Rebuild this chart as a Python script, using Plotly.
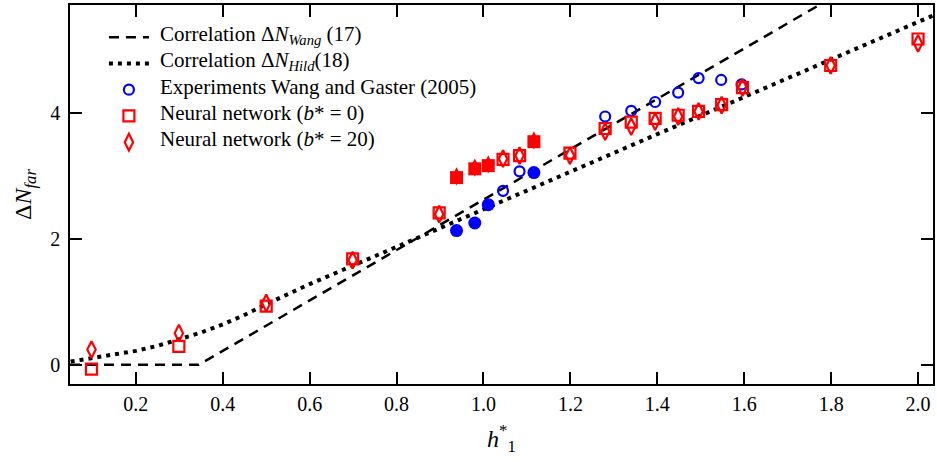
import plotly.graph_objects as go

# Correlation curves
wang_x = [0.0485, 0.345, 2.04]
wang_y = [0.0, 0.0, 6.78]
hild_x = [0.05, 0.1, 0.15, 0.2, 0.25, 0.3, 0.35, 0.4, 0.45, 0.5, 0.6, 0.8, 1.0, 1.2, 1.4, 1.6, 1.8, 2.0, 2.04]
hild_y = [0.05, 0.11, 0.16, 0.22, 0.30, 0.40, 0.51, 0.64, 0.79, 0.96, 1.28, 1.87, 2.47, 3.06, 3.66, 4.25, 4.85, 5.44, 5.56]

# Experiments Wang and Gaster (2005)
exp_open_x = [1.045, 1.083, 1.280, 1.340, 1.395, 1.448, 1.495, 1.547, 1.594]
exp_open_y = [2.76, 3.07, 3.94, 4.03, 4.17, 4.32, 4.55, 4.52, 4.45]
exp_fill_x = [0.938, 0.980, 1.011, 1.116]
exp_fill_y = [2.13, 2.25, 2.54, 3.05]

# Neural network (b* = 0)
nn0_open_x = [0.098, 0.299, 0.500, 0.699, 0.898, 1.045, 1.083, 1.199, 1.280, 1.340, 1.395, 1.448, 1.495, 1.548, 1.596, 1.799, 2.000]
nn0_open_y = [-0.07, 0.29, 0.93, 1.68, 2.41, 3.26, 3.32, 3.36, 3.75, 3.85, 3.91, 3.96, 4.02, 4.13, 4.40, 4.75, 5.17]
nn0_fill_x = [0.938, 0.980, 1.011, 1.116]
nn0_fill_y = [2.97, 3.11, 3.16, 3.54]

# Neural network (b* = 20)
nn20_open_x = [0.098, 0.299, 0.500, 0.699, 0.898, 1.045, 1.083, 1.199, 1.280, 1.340, 1.395, 1.448, 1.495, 1.548, 1.596, 1.799, 2.000]
nn20_open_y = [0.24, 0.50, 0.98, 1.66, 2.39, 3.27, 3.32, 3.32, 3.70, 3.78, 3.86, 3.94, 4.02, 4.12, 4.40, 4.75, 5.10]
nn20_fill_x = [0.938, 0.980, 1.011, 1.116]
nn20_fill_y = [2.99, 3.13, 3.18, 3.56]

legend_labels = [
    "Correlation Δ<i>N</i><sub><i>Wang</i></sub> (17)",
    "Correlation Δ<i>N</i><sub><i>Hild</i></sub>(18)",
    "Experiments Wang and Gaster (2005)",
    "Neural network (<i>b</i>* = 0)",
    "Neural network (<i>b</i>* = 20)",
]

RED = "rgb(255,0,0)"
BLUE = "rgb(0,0,255)"
FONT = "Liberation Serif, Times New Roman, serif"
BLANK = "\u2009"

fig = go.Figure()
fig.add_trace(go.Scatter(x=wang_x, y=wang_y, mode="lines",
                         line=dict(color="black", width=2.5, dash="10px,7px"),
                         name=BLANK))
fig.add_trace(go.Scatter(x=hild_x, y=hild_y, mode="lines",
                         line=dict(color="black", width=4, dash="4px,5px"),
                         name=BLANK))
fig.add_trace(go.Scatter(x=exp_open_x, y=exp_open_y, mode="markers",
                         marker=dict(symbol="circle-open", size=10, color=BLUE, line=dict(width=2.2, color=BLUE)),
                         name=BLANK))
fig.add_trace(go.Scatter(x=exp_fill_x, y=exp_fill_y, mode="markers",
                         marker=dict(symbol="circle", size=13, color=BLUE),
                         showlegend=False))
fig.add_trace(go.Scatter(x=nn0_open_x, y=nn0_open_y, mode="markers",
                         marker=dict(symbol="square-open", size=11, color=RED, line=dict(width=2.2, color=RED)),
                         name=BLANK))
fig.add_trace(go.Scatter(x=nn0_fill_x, y=nn0_fill_y, mode="markers",
                         marker=dict(symbol="square", size=13, color=RED),
                         showlegend=False))
fig.add_trace(go.Scatter(x=nn20_open_x, y=nn20_open_y, mode="markers",
                         marker=dict(symbol="diamond-tall-open", size=12, color=RED, line=dict(width=2.2, color=RED)),
                         name=BLANK))
fig.add_trace(go.Scatter(x=nn20_fill_x, y=nn20_fill_y, mode="markers",
                         marker=dict(symbol="diamond-tall", size=13, color=RED),
                         showlegend=False))

# legend texts placed beside the library legend samples
plot_left, plot_w, plot_bottom, plot_h = 70, 865, 384, 379
row_y = [35, 61, 87, 113, 139]
annotations = []
for lbl, yc in zip(legend_labels, row_y):
    annotations.append(dict(text=lbl, xref="paper", yref="paper",
                            x=(158 - plot_left) / plot_w, y=(plot_bottom - yc) / plot_h,
                            xanchor="left", yanchor="middle", showarrow=False,
                            font=dict(family=FONT, size=21, color="black")))

axis_common = dict(showline=True, linecolor="black", linewidth=1.5, mirror="ticks",
                   ticks="inside", ticklen=12, tickwidth=1.5, tickcolor="black",
                   showgrid=False, zeroline=False,
                   tickfont=dict(family=FONT, size=20, color="black"))

fig.update_layout(
    width=937, height=462,
    margin=dict(l=70, r=2, t=5, b=78),
    paper_bgcolor="white", plot_bgcolor="white",
    font=dict(family=FONT, size=20, color="black"),
    showlegend=True,
    annotations=annotations,
    legend=dict(x=(104 - plot_left) / plot_w, y=(plot_bottom - 19) / plot_h, xanchor="left", yanchor="top",
                bgcolor="rgba(0,0,0,0)", font=dict(family=FONT, size=17.9, color="black"),
                itemwidth=40, tracegroupgap=0),
    xaxis=dict(range=[0.0485, 2.0344], tickvals=[0.2, 0.4, 0.6, 0.8, 1.0, 1.2, 1.4, 1.6, 1.8, 2.0],
               ticktext=["0.2", "0.4", "0.6", "0.8", "1.0", "1.2", "1.4", "1.6", "1.8", "2.0"],
               ticklabelstandoff=1,
               title=dict(text="<i>h</i><sup>*</sup><sub>1</sub>", font=dict(family=FONT, size=24), standoff=16),
               **axis_common),
    yaxis=dict(range=[-0.306, 5.71], tickvals=[0, 2, 4], ticklabelstandoff=4,
               title=dict(text="Δ<i>N</i><sub><i>far</i></sub>", font=dict(family=FONT, size=24), standoff=12),
               **axis_common),
)

fig.write_html("out.html")
